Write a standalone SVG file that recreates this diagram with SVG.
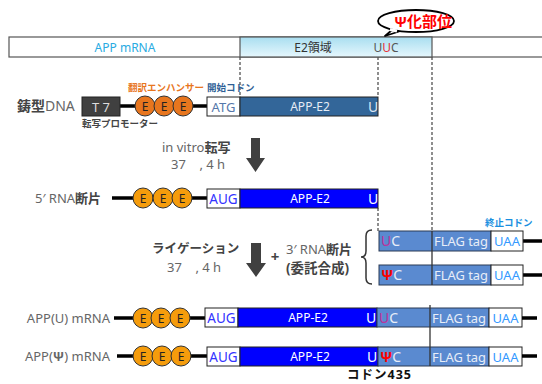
<svg xmlns="http://www.w3.org/2000/svg" width="542" height="384" viewBox="0 0 542 384">
<defs>
<linearGradient id="e2g" x1="0" y1="0" x2="0" y2="1">
<stop offset="0" stop-color="#a9def0"/>
<stop offset="1" stop-color="#e6f7fd"/>
</linearGradient>
<style>
text{font-family:"Noto Sans","Noto Sans CJK JP",sans-serif;}
.g{fill:#666;font-size:13px;}
.jb{fill:#444;font-weight:bold;}
.sm{font-size:9.5px;font-weight:bold;}
.ln{stroke:#000;stroke-width:3.5;}
.dash{stroke:#444;stroke-width:1.2;stroke-dasharray:3 2;fill:none;}
.solid{stroke:#333;stroke-width:1.3;}
.eo{fill:#e8761e;stroke:#333;stroke-width:1;}
.ey{fill:#f59c0c;stroke:#333;stroke-width:1;}
.et{font-size:12px;fill:#222;text-anchor:middle;}
.wb{fill:#fff;stroke:#222;stroke-width:1;}
.blue{fill:#0000ff;stroke:#222;stroke-width:1;}
.frag{fill:#5a8ad0;stroke:#2a3a55;stroke-width:1;}
.wt{fill:#fff;font-size:12px;}
.lt{fill:#e8eef8;font-size:13px;}
.aug{fill:#3333ff;font-size:13.5px;}
.uaa{fill:#3399ff;font-size:13px;}
.arr{fill:#404040;}
</style>
</defs>

<g id="connectors">
<line class="dash" x1="240" y1="57" x2="240" y2="97"/>
<line class="dash" x1="378" y1="57" x2="378" y2="97"/>
<line class="dash" x1="432" y1="57" x2="432" y2="231"/>
<line class="dash" x1="378" y1="208" x2="378" y2="231"/>
<line class="ln" x1="120" y1="106" x2="207" y2="106"/>
<line class="ln" x1="112" y1="198" x2="207" y2="198"/>
<line class="ln" x1="523" y1="241" x2="542" y2="241"/>
<line class="ln" x1="523" y1="275" x2="542" y2="275"/>
<line class="ln" x1="114" y1="318" x2="205" y2="318"/>
<line class="ln" x1="117" y1="356" x2="207" y2="356"/>
<polygon class="arr" points="251,138 260,138 260,158 265,158 255.5,172 246,158 251,158"/>
<polygon class="arr" points="251,243 261,243 261,263 266,263 256,277 246,263 251,263"/>
</g>

<g id="top-bar">
<rect x="9" y="37" width="540" height="20" fill="#fff" stroke="#555" stroke-width="1.2"/>
<rect x="240" y="37" width="192" height="20" fill="url(#e2g)" stroke="#555" stroke-width="1.2"/>
<text x="125" y="52" text-anchor="middle" font-size="12" fill="#29abe2">APP mRNA</text>
<text x="313" y="52" text-anchor="middle" font-size="12" fill="#333">E2領域</text>
<text x="386" y="52" text-anchor="middle" font-size="12" fill="#555">U<tspan fill="#e8303a">U</tspan>C</text>
</g>

<g id="callout">
<path d="M392,30 L385,36 L399,31.5 Z" fill="#fff" stroke="#000" stroke-width="1.8" stroke-linejoin="round"/>
<ellipse cx="416" cy="21" rx="38" ry="11" fill="#fff" stroke="#000" stroke-width="1.8"/>
<path d="M390,29.5 L397,31" stroke="#fff" stroke-width="3"/>
<text x="423" y="27" text-anchor="middle" font-size="15" font-weight="bold" fill="#ff0000">Ψ化部位</text>
</g>

<g id="row-dna">
<text x="17" y="111" font-size="14"><tspan class="jb">鋳型</tspan><tspan fill="#666">DNA</tspan></text>
<rect x="82" y="97" width="38" height="19" fill="#404040" stroke="#222"/>
<text x="101" y="111.5" text-anchor="middle" font-size="13" fill="#ddd">T 7</text>
<text x="82" y="127" class="sm" fill="#444">転写プロモーター</text>
<text x="128" y="91" class="sm" fill="#e8761e">翻訳エンハンサー</text>
<text x="207" y="91" class="sm" fill="#2f5f96">開始コドン</text>
<circle class="eo" cx="145" cy="106" r="10"/><text class="et" x="145" y="110.5">E</text>
<circle class="eo" cx="164" cy="106" r="10"/><text class="et" x="164" y="110.5">E</text>
<circle class="eo" cx="183" cy="106" r="10"/><text class="et" x="183" y="110.5">E</text>
<rect class="wb" x="207" y="97" width="33" height="19"/>
<text x="223.5" y="111.5" text-anchor="middle" font-size="13" fill="#5577aa">ATG</text>
<rect x="240" y="97" width="138" height="19" fill="#336699" stroke="#222"/>
<text x="310" y="111" text-anchor="middle" font-size="12" fill="#e6ecf5">APP-E2</text>
<text x="368" y="112" font-size="14" fill="#dde6f2">U</text>
</g>

<g id="transcription">
<text class="g" x="162" y="152">in vitro<tspan class="jb">転写</tspan></text>
<text class="g" x="171" y="169" style="white-space:pre">37    , 4 h</text>
</g>

<g id="row-5rna">
<text class="g" x="35" y="203">5′ RNA<tspan class="jb">断片</tspan></text>
<circle class="ey" cx="143" cy="198" r="10"/><text class="et" x="143" y="202.5">E</text>
<circle class="ey" cx="163" cy="198" r="10"/><text class="et" x="163" y="202.5">E</text>
<circle class="ey" cx="182" cy="198" r="10"/><text class="et" x="182" y="202.5">E</text>
<rect class="wb" x="207" y="189" width="33" height="19"/>
<text class="aug" x="223.5" y="203.5" text-anchor="middle">AUG</text>
<rect class="blue" x="240" y="189" width="138" height="19"/>
<text class="wt" x="310" y="203" text-anchor="middle">APP-E2</text>
<text x="368" y="204" font-size="14" fill="#fff">U</text>
</g>

<g id="ligation">
<text class="jb" x="152" y="253" font-size="12.5">ライゲーション</text>
<text class="g" x="167" y="272" style="white-space:pre">37    , 4 h</text>
<text x="275" y="262" text-anchor="middle" font-size="15" font-weight="bold" fill="#444">+</text>
<text class="g" x="286" y="254">3′ RNA<tspan class="jb">断片</tspan></text>
<text class="jb" x="286" y="273" font-size="13.5">(委託合成)</text>
<path d="M372,230 Q366,230 366,236 L366,251 Q366,257 361,257 Q366,257 366,263 L366,278 Q366,284 372,284" fill="none" stroke="#333" stroke-width="1.5"/>
</g>

<g id="row-3rna-u">
<text x="485" y="226" class="sm" fill="#1a8fe0">終止コドン</text>
<rect class="frag" x="379" y="231" width="112" height="20"/>
<text x="381" y="246" font-size="14"><tspan fill="#c0309a">U</tspan><tspan fill="#e8eef8">C</tspan></text>
<text class="lt" x="434" y="246" textLength="54" lengthAdjust="spacingAndGlyphs">FLAG tag</text>
<rect class="wb" x="491" y="231" width="32" height="20"/>
<text class="uaa" x="507" y="246" text-anchor="middle">UAA</text>
</g>

<g id="row-3rna-psi">
<rect class="frag" x="379" y="265" width="112" height="20"/>
<text x="381" y="280" font-size="14"><tspan fill="#ff0000" font-weight="bold">Ψ</tspan><tspan fill="#e8eef8">C</tspan></text>
<text class="lt" x="434" y="280" textLength="54" lengthAdjust="spacingAndGlyphs">FLAG tag</text>
<rect class="wb" x="491" y="265" width="32" height="20"/>
<text class="uaa" x="507" y="280" text-anchor="middle">UAA</text>
<line class="solid" x1="432" y1="231" x2="432" y2="285"/>
</g>

<g id="row-app-u">
<text class="g" x="110" y="323" text-anchor="end">APP(U) mRNA</text>
<circle class="ey" cx="143" cy="318" r="10"/><text class="et" x="143" y="322.5">E</text>
<circle class="ey" cx="161" cy="318" r="10"/><text class="et" x="161" y="322.5">E</text>
<circle class="ey" cx="180" cy="318" r="10"/><text class="et" x="180" y="322.5">E</text>
<rect class="wb" x="205" y="308" width="33" height="19"/>
<text class="aug" x="221.5" y="322.5" text-anchor="middle">AUG</text>
<rect class="blue" x="238" y="308" width="139" height="19"/>
<text class="wt" x="308" y="322" text-anchor="middle">APP-E2</text>
<text x="366" y="323" font-size="14" fill="#fff">U</text>
<rect class="frag" x="377" y="308" width="112" height="19"/>
<text x="379" y="323" font-size="14"><tspan fill="#c0309a">U</tspan><tspan fill="#e8eef8">C</tspan></text>
<text class="lt" x="432" y="322.5" textLength="54" lengthAdjust="spacingAndGlyphs">FLAG tag</text>
<rect class="wb" x="489" y="308" width="33" height="19"/>
<text class="uaa" x="505.5" y="322.5" text-anchor="middle">UAA</text>
<line class="ln" x1="522" y1="318" x2="537" y2="318"/>
</g>

<g id="row-app-psi">
<text class="g" x="110" y="361" text-anchor="end">APP(<tspan font-weight="bold">Ψ</tspan>) mRNA</text>
<circle class="ey" cx="143" cy="356" r="10"/><text class="et" x="143" y="360.5">E</text>
<circle class="ey" cx="162" cy="356" r="10"/><text class="et" x="162" y="360.5">E</text>
<circle class="ey" cx="181" cy="356" r="10"/><text class="et" x="181" y="360.5">E</text>
<rect class="wb" x="207" y="347" width="33" height="19"/>
<text class="aug" x="223.5" y="361.5" text-anchor="middle">AUG</text>
<rect class="blue" x="240" y="347" width="138" height="19"/>
<text class="wt" x="310" y="361" text-anchor="middle">APP-E2</text>
<text x="367" y="362" font-size="14" fill="#fff">U</text>
<rect class="frag" x="378" y="347" width="111" height="19"/>
<text x="380" y="362" font-size="14"><tspan fill="#ff0000" font-weight="bold">Ψ</tspan><tspan fill="#e8eef8">C</tspan></text>
<text class="lt" x="432" y="361.5" textLength="54" lengthAdjust="spacingAndGlyphs">FLAG tag</text>
<rect class="wb" x="489" y="347" width="33" height="19"/>
<text class="uaa" x="505.5" y="361.5" text-anchor="middle">UAA</text>
<line class="ln" x1="522" y1="356" x2="537" y2="356"/>
<line class="solid" x1="430" y1="305" x2="430" y2="366"/>
<text x="347" y="379" font-size="12.5" font-weight="bold" fill="#111" letter-spacing="1">コドン435</text>
</g>
</svg>
